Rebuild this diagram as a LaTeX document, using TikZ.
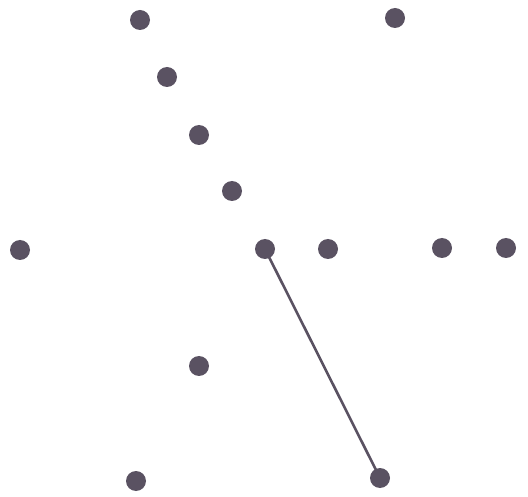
\documentclass[tikz,border=0pt]{standalone}
\definecolor{dotc}{HTML}{5A5262}
\begin{document}
\begin{tikzpicture}[x=1pt,y=-1pt,
  dotnode/.style={circle,fill=dotc,inner sep=0pt,minimum size=20pt},
  link/.style={draw=dotc,line width=2.6pt}]
\useasboundingbox (0,0) rectangle (528,497);
\node[dotnode] (d1) at (140,20) {};
\node[dotnode] (d2) at (395,18) {};
\node[dotnode] (d3) at (167,77) {};
\node[dotnode] (d4) at (199,135) {};
\node[dotnode] (d5) at (232,191) {};
\node[dotnode] (d6) at (20,250) {};
\node[dotnode] (d7) at (265,249) {};
\node[dotnode] (d8) at (328,249) {};
\node[dotnode] (d9) at (442,248) {};
\node[dotnode] (d10) at (506,248) {};
\node[dotnode] (d11) at (199,366) {};
\node[dotnode] (d12) at (136,481) {};
\node[dotnode] (d13) at (380,478) {};
\draw[link] (d7.center) -- (d13.center);
\end{tikzpicture}
\end{document}
